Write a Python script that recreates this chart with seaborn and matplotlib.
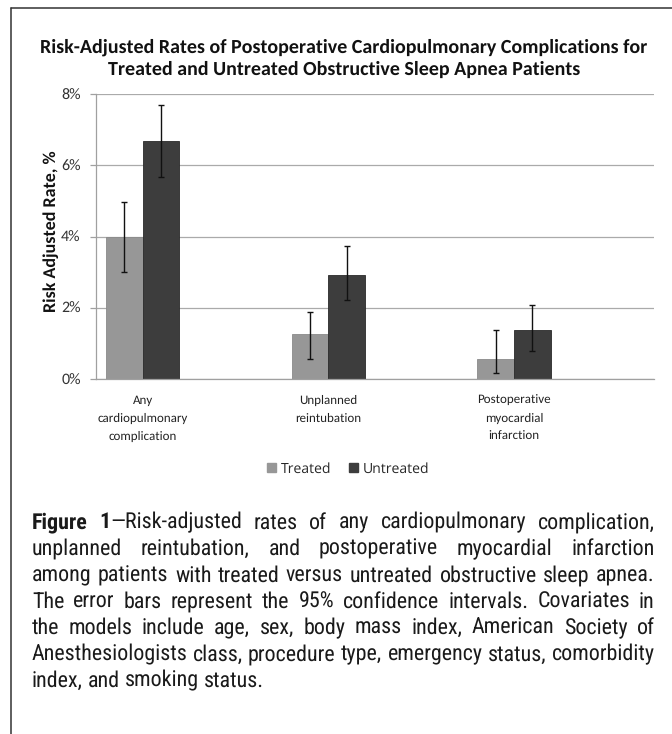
import matplotlib
matplotlib.use("Agg")
import numpy as np
import pandas as pd
import matplotlib.pyplot as plt
from matplotlib import font_manager
from matplotlib.font_manager import FontProperties
from matplotlib.patches import Patch
from matplotlib.lines import Line2D
import seaborn as sns

# data (rates in %)
categories = ["Any cardiopulmonary complication", "Unplanned reintubation",
              "Postoperative myocardial infarction"]
tick_labels = ["Any\ncardiopulmonary\ncomplication", "Unplanned\nreintubation",
               "Postoperative\nmyocardial\ninfarction"]
groups = ["Treated", "Untreated"]
treated_rate = [4.0, 1.25, 0.57]
treated_low = [3.0, 0.57, 0.16]
treated_high = [4.98, 1.87, 1.37]
untreated_rate = [6.68, 2.91, 1.37]
untreated_low = [5.68, 2.22, 0.78]
untreated_high = [7.68, 3.73, 2.09]
y_ticks = [0, 2, 4, 6, 8]
colors = ["#979797", "#3d3d3d"]

title_lines = ["Risk-Adjusted Rates of Postoperative Cardiopulmonary Complications for",
               "Treated and Untreated Obstructive Sleep Apnea Patients"]
caption_lines = [
    "—Risk-adjusted rates of any cardiopulmonary complication,",
    "unplanned reintubation, and postoperative myocardial infarction",
    "among patients with treated versus untreated obstructive sleep apnea.",
    "The error bars represent the 95% confidence intervals. Covariates in",
    "the models include age, sex, body mass index, American Society of",
    "Anesthesiologists class, procedure type, emergency status, comorbidity",
    "index, and smoking status.",
]


def have_font(name):
    try:
        font_manager.findfont(name, fallback_to_default=False)
        return True
    except ValueError:
        return False


def find_narrow():
    options = [("Liberation Sans Narrow", "normal"), ("Arial Narrow", "normal"),
               ("Roboto Condensed", "normal"), ("DejaVu Sans", "condensed"),
               ("Noto Sans", "condensed"), ("Open Sans", "condensed")]
    for fam, st in options:
        try:
            path = font_manager.findfont(FontProperties(family=fam, stretch=st),
                                         fallback_to_default=False)
        except ValueError:
            continue
        if st == "normal" or "ondensed" in path or "arrow" in path:
            return fam, st
    return "Liberation Sans", "normal"


chart_font = next(f for f in ["Carlito", "Lato", "DejaVu Sans"] if have_font(f))
legend_font = next(f for f in ["Open Sans", "Noto Sans", "DejaVu Sans"] if have_font(f))
cap_font, cap_stretch = find_narrow()

df = pd.DataFrame({
    "category": categories * 2,
    "group": [groups[0]] * 3 + [groups[1]] * 3,
    "rate": treated_rate + untreated_rate,
})

sns.set_theme(style="white")
plt.rcParams["text.hinting"] = "no_hinting"
plt.rcParams["text.hinting_factor"] = 1
W, H = 672, 734
fig = plt.figure(figsize=(W / 100, H / 100), dpi=100)
ax = fig.add_axes([96 / W, 1 - 379 / H, 558 / W, 285 / H])

sns.barplot(data=df, x="category", y="rate", hue="group", order=categories,
            hue_order=groups, palette=colors, width=0.395, gap=0,
            errorbar=None, saturation=1, legend=False, ax=ax)

edge = ["#8a8a8a", "#2a2a2a"]
lows = [treated_low, untreated_low]
highs = [treated_high, untreated_high]
rates = [treated_rate, untreated_rate]
bar_conts = list(ax.containers)
for i, cont in enumerate(bar_conts):
    xs = [b.get_x() + b.get_width() / 2 for b in cont]
    for b in cont:
        b.set_edgecolor(edge[i])
        b.set_linewidth(0.6)
    r = np.array(rates[i])
    err = [r - np.array(lows[i]), np.array(highs[i]) - r]
    ax.errorbar(xs, r, yerr=err, fmt="none", ecolor="#111111",
                elinewidth=1.0, capsize=2.4, capthick=1.0, zorder=5)

ax.set_xlim(-0.252, 2.754)
ax.set_ylim(0, 8)
ax.set_yticks(y_ticks)
ax.set_yticklabels([f"{v}%" for v in y_ticks], fontsize=11.8, family=chart_font,
                   color="#333333")
ax.set_xticks(range(len(categories)))
ax.set_xticklabels(tick_labels, fontsize=9.6, family=chart_font,
                   color="#222222", linespacing=1.75)
ax.set_xlabel("")
ax.set_ylabel("")
ax.grid(axis="y", color="#aaaaaa", linewidth=0.9)
ax.set_axisbelow(True)
for s in ["top", "right"]:
    ax.spines[s].set_visible(False)
for s in ["left", "bottom"]:
    ax.spines[s].set_color("#a0a0a0")
    ax.spines[s].set_linewidth(0.9)
ax.tick_params(axis="y", length=4, width=0.9, color="#a0a0a0", pad=7, left=True)
ax.tick_params(axis="x", length=0, pad=11.5)

fig.text(51 / W, 1 - 231 / H, "Risk Adjusted Rate, %", rotation=90,
         ha="center", va="center", fontsize=13.2, fontweight="bold",
         family=chart_font, color="#111111")

for i, line in enumerate(title_lines):
    fig.text(344 / W, 1 - (52.3 + 22.7 * i) / H, line, ha="center",
             va="baseline", fontsize=14.4, fontweight="bold",
             family=chart_font, color="#111111")

handles = [Patch(facecolor=c, edgecolor=c) for c in colors]
fig.legend(handles, groups, loc="center", bbox_to_anchor=(348 / W, 1 - 469 / H),
           ncol=2, frameon=False, handlelength=0.65, handleheight=0.65,
           handletextpad=0.35, columnspacing=1.3,
           prop={"family": legend_font, "size": 10})

# frame round the figure (top and left only)
fig.add_artist(Line2D([11 / W, 1], [1 - 8 / H, 1 - 8 / H], color="#333333",
                      lw=1.1, transform=fig.transFigure))
fig.add_artist(Line2D([11 / W, 11 / W], [0, 1 - 8 / H], color="#333333",
                      lw=1.1, transform=fig.transFigure))

# justified caption, placed word by word
renderer = fig.canvas.get_renderer()
left_px, right_px = 32, 655

# pick a size so the tightest line just fits the column
probe = fig.text(0, 0, "", fontsize=14, family=cap_font, stretch=cap_stretch)
widest = 0
for i, line in enumerate(caption_lines[:-1]):
    probe.set_text(("Figure 1" if i == 0 else "") + line)
    widest = max(widest, probe.get_window_extent(renderer).width)
probe.remove()
cap_size = min(16.0, 14.0 * (right_px - left_px - 3) / widest)
cap_size = np.floor(cap_size * 2) / 2

for i, line in enumerate(caption_lines):
    tokens = []
    if i == 0:
        tokens.append(("Figure", "bold", False))
        tokens.append(("1", "bold", False))
    for j, w in enumerate(line.split(" ")):
        tokens.append((w, "normal", i == 0 and j == 0))
    texts, widths = [], []
    for w, weight, glue in tokens:
        t = fig.text(0, 0, w, fontsize=cap_size, family=cap_font,
                     stretch=cap_stretch, fontweight=weight, color="#1a1a1a",
                     va="baseline")
        texts.append(t)
        widths.append(t.get_window_extent(renderer).width)
    n_gaps = sum(1 for k, tok in enumerate(tokens) if k > 0 and not tok[2])
    if i < len(caption_lines) - 1:
        gap = (right_px - left_px - sum(widths)) / n_gaps
    else:
        gap = cap_size * 0.3
    x = left_px
    y = 1 - (528.5 + 26.4 * i) / H
    for k, (t, w) in enumerate(zip(texts, widths)):
        if k > 0 and not tokens[k][2]:
            x += gap
        t.set_position((round(x) / W, y))
        x += w

fig.savefig("out.png", dpi=100, facecolor="white")
